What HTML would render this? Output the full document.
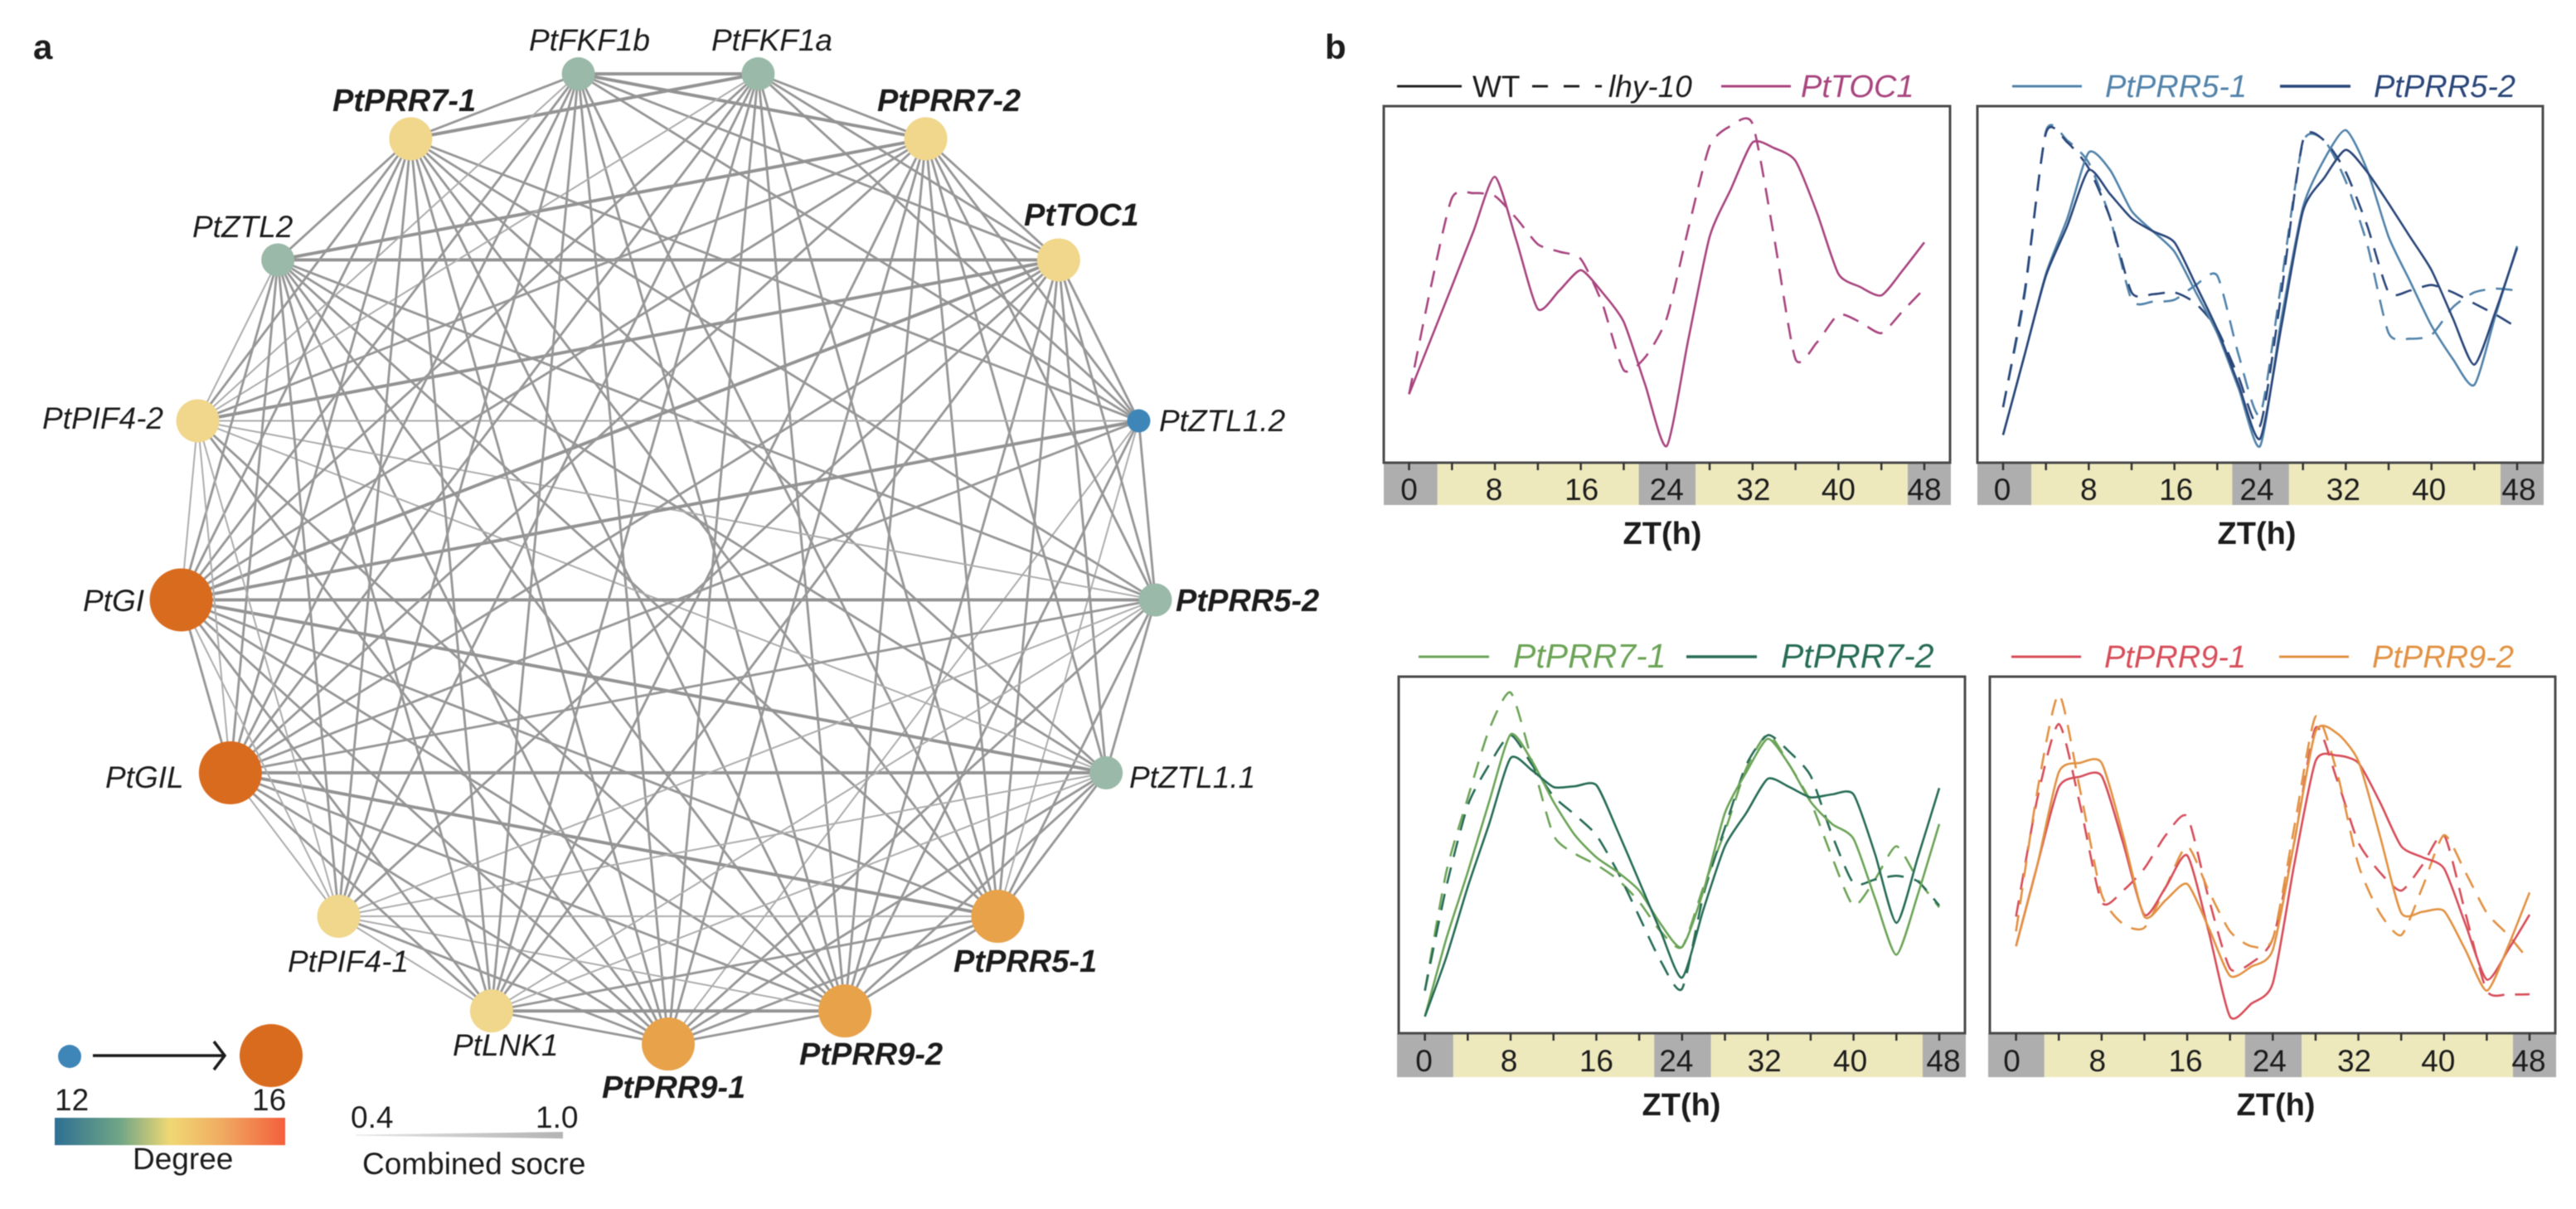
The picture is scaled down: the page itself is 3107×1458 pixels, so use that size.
<!DOCTYPE html>
<html lang="en">
<head>
<meta charset="utf-8">
<title>Circadian gene network and expression profiles</title>
<style>
html,body{margin:0;padding:0;background:#fff;}
svg{display:block;font-family:"Liberation Sans",sans-serif;filter:blur(0.6px);}
text{fill:#1c1c1c;}
.lbl{font-size:37px;font-style:italic;}
.lblb{font-size:38px;font-style:italic;font-weight:bold;}
.plain{font-size:37px;}
.leg{font-size:38px;font-style:italic;}
.axt{font-size:38px;font-weight:bold;text-anchor:middle;}
.tick{font-size:37px;text-anchor:middle;}
</style>
</head>
<body>
<svg id="fig" xmlns="http://www.w3.org/2000/svg" width="3107" height="1458" viewBox="0 0 3107 1458">
<defs>
<linearGradient id="degreeGrad" x1="0" x2="1" y1="0" y2="0">
<stop offset="0" stop-color="#2e6f93"/>
<stop offset="0.28" stop-color="#6fa586"/>
<stop offset="0.5" stop-color="#f0d874"/>
<stop offset="0.72" stop-color="#f0ac62"/>
<stop offset="1" stop-color="#f45f3c"/>
</linearGradient>
<linearGradient id="scoreGrad" x1="0" x2="1" y1="0" y2="0">
<stop offset="0" stop-color="#e4e4e4"/>
<stop offset="1" stop-color="#b4b4b4"/>
</linearGradient>
</defs>

<text x="40" y="71" font-size="42" font-weight="bold">a</text>
<text x="1598" y="71" font-size="42" font-weight="bold">b</text>

<g id="edges"></g>
<g id="nodes"></g>

<g>
<text class="lbl" x="638" y="61">PtFKF1b</text>
<text class="lbl" x="858" y="61">PtFKF1a</text>
<text class="lblb" x="401" y="134">PtPRR7-1</text>
<text class="lblb" x="1058" y="134">PtPRR7-2</text>
<text class="lbl" x="232" y="286">PtZTL2</text>
<text class="lblb" x="1235" y="272">PtTOC1</text>
<text class="lbl" x="51" y="517">PtPIF4-2</text>
<text class="lbl" x="1398" y="520">PtZTL1.2</text>
<text class="lbl" x="100" y="737">PtGI</text>
<text class="lblb" x="1418" y="737">PtPRR5-2</text>
<text class="lbl" x="127" y="950">PtGIL</text>
<text class="lbl" x="1362" y="950">PtZTL1.1</text>
<text class="lbl" x="347" y="1172">PtPIF4-1</text>
<text class="lblb" x="1150" y="1172">PtPRR5-1</text>
<text class="lbl" x="546" y="1273">PtLNK1</text>
<text class="lblb" x="964" y="1284">PtPRR9-2</text>
<text class="lblb" x="726" y="1324">PtPRR9-1</text>
</g>

<g>
<circle cx="84" cy="1274" r="14" fill="#3f86b8"/>
<circle cx="327" cy="1273" r="38" fill="#d96b1f"/>
<path d="M112 1273H270M258 1256L271 1273L258 1290" fill="none" stroke="#1c1c1c" stroke-width="3.5"/>
<text class="plain" x="66" y="1339">12</text>
<text class="plain" x="304" y="1339">16</text>
<rect x="66" y="1348" width="278" height="33" fill="url(#degreeGrad)"/>
<text class="plain" x="160" y="1410">Degree</text>
</g>
<g>
<text class="plain" x="423" y="1360">0.4</text>
<text class="plain" x="646" y="1360">1.0</text>
<polygon points="429,1368.5 679,1365 679,1373 429,1369.5" fill="url(#scoreGrad)"/>
<text class="plain" x="437" y="1416">Combined socre</text>
</g>

<g>
<line x1="1685" x2="1763" y1="104" y2="104" stroke="#222" stroke-width="3"/>
<text class="plain" x="1776" y="117">WT</text>
<line x1="1848" x2="1932" y1="104" y2="104" stroke="#222" stroke-width="3" stroke-dasharray="19 19 19 19 6 0"/>
<text class="plain" x="1940" y="117" font-style="italic">lhy-10</text>
<line x1="2076" x2="2160" y1="104" y2="104" stroke="#a8457f" stroke-width="3"/>
<text class="leg" x="2172" y="117" style="fill:#a8457f">PtTOC1</text>
</g>
<g>
<line x1="2427" x2="2511" y1="104" y2="104" stroke="#5283aa" stroke-width="3"/>
<text class="leg" x="2539" y="117" style="fill:#5283aa">PtPRR5-1</text>
<line x1="2750" x2="2835" y1="104" y2="104" stroke="#2a4679" stroke-width="3.5"/>
<text class="leg" x="2863" y="117" style="fill:#2a4679">PtPRR5-2</text>
</g>
<g>
<line x1="1711" x2="1796" y1="792" y2="792" stroke="#6ca457" stroke-width="3"/>
<text class="leg" x="1825" y="805" style="fill:#6ca457;font-size:41px">PtPRR7-1</text>
<line x1="2034" x2="2119" y1="792" y2="792" stroke="#276c56" stroke-width="3.5"/>
<text class="leg" x="2148" y="805" style="fill:#276c56;font-size:41px">PtPRR7-2</text>
</g>
<g>
<line x1="2426" x2="2510" y1="792" y2="792" stroke="#d64e5a" stroke-width="3"/>
<text class="leg" x="2538" y="805" style="fill:#d64e5a">PtPRR9-1</text>
<line x1="2749" x2="2833" y1="792" y2="792" stroke="#e29243" stroke-width="3"/>
<text class="leg" x="2861" y="805" style="fill:#e29243">PtPRR9-2</text>
</g>

<text class="axt" x="2005" y="656">ZT(h)</text>
<text class="axt" x="2722" y="656">ZT(h)</text>
<text class="axt" x="2028" y="1345">ZT(h)</text>
<text class="axt" x="2745" y="1345">ZT(h)</text>

<g id="charts"></g>
</svg>

<script>
/* ---------- network data ---------- */
const nodeNames = ['PtPRR9-1','PtPRR9-2','PtPRR5-1','PtZTL1.1','PtPRR5-2','PtZTL1.2','PtTOC1','PtPRR7-2','PtFKF1a','PtFKF1b','PtPRR7-1','PtZTL2','PtPIF4-2','PtGI','PtGIL','PtPIF4-1','PtLNK1'];
const nodeDegrees = [15,15,15,13,13,12,14,14,13,13,14,13,14,16,16,14,14];
const missingEdges = [
 ['PtPRR7-1','PtPRR7-2'],['PtPRR7-1','PtTOC1'],['PtFKF1a','PtZTL2'],['PtFKF1b','PtZTL2'],['PtZTL2','PtZTL1.2'],
 ['PtFKF1a','PtZTL1.1'],['PtFKF1b','PtZTL1.1'],['PtZTL1.2','PtZTL1.1'],['PtZTL1.2','PtPIF4-1'],
 ['PtZTL1.2','PtLNK1'],['PtPRR5-2','PtFKF1a'],['PtPRR5-2','PtFKF1b'],['PtPRR7-2','PtPIF4-1'],
 ['PtPRR5-2','PtPRR9-2'],['PtTOC1','PtPRR9-1'],['PtPIF4-2','PtLNK1'],['PtPIF4-2','PtPRR5-1']
];
const strongEdges = [
 ['PtGI','PtZTL1.2'],['PtGI','PtZTL1.1'],['PtGI','PtPRR5-2'],['PtGI','PtTOC1'],['PtGIL','PtZTL1.1'],
 ['PtGIL','PtPRR5-1'],['PtZTL2','PtTOC1'],['PtZTL2','PtPRR7-2'],['PtPRR7-1','PtFKF1a'],['PtFKF1b','PtPRR7-2'],
 ['PtTOC1','PtPIF4-2'],['PtLNK1','PtPRR9-2'],['PtFKF1a','PtFKF1b']
];
const weakEdges = [
 ['PtPIF4-2','PtGI'],['PtPIF4-2','PtZTL2'],['PtPIF4-2','PtZTL1.2'],['PtPIF4-2','PtPRR5-2'],['PtPIF4-2','PtZTL1.1'],
 ['PtPIF4-2','PtFKF1a'],['PtPIF4-2','PtFKF1b'],['PtPIF4-1','PtPRR5-1'],['PtPIF4-1','PtZTL1.1'],['PtPIF4-1','PtPRR5-2'],
 ['PtPIF4-1','PtGIL'],['PtPIF4-1','PtGI'],['PtLNK1','PtZTL1.1'],['PtLNK1','PtPRR5-2'],['PtZTL1.2','PtPRR9-1'],
 ['PtZTL1.2','PtPRR5-1'],['PtPIF4-2','PtGIL'],['PtPIF4-2','PtPIF4-1'],['PtPIF4-1','PtPRR9-2'],['PtPIF4-1','PtLNK1']
];
const edgeScoreLevels = [0.45, 0.7, 1.0];

/* ---------- expression data (ZT every 2 h; relative expression, 0 to 963) ---------- */
const ztHours = [0,2,4,6,8,10,12,14,16,18,20,22,24,26,28,30,32,34,36,38,40,42,44,46,48];
const tickHours = [0,4,8,12,16,20,24,28,32,36,40,44,48];
const tickLabels = ['0','8','16','24','32','40','48'];
const tickLabelHours = [0,8,16,24,32,40,48];
const bandEdges = [2.65,21.4,26.7,46.45];

const toc1Wt    = [185,331,477,625,772,600,415,465,520,460,380,210,45,330,610,740,865,850,815,675,510,475,452,520,595];
const toc1Lhy   = [185,470,715,728,720,660,590,570,550,430,250,285,390,630,855,910,915,610,280,325,400,380,350,410,470];
const prr51Wt   = [75,290,510,660,838,790,680,625,570,460,350,200,45,390,690,820,898,790,610,490,370,280,210,400,585];
const prr52Wt   = [75,290,505,640,790,725,660,625,595,480,360,210,65,370,680,770,845,785,700,610,520,390,265,410,580];
const prr51Lhy  = [150,450,895,870,810,660,440,435,440,480,505,290,130,490,865,870,760,590,350,335,345,420,460,470,465];
const prr52Lhy  = [150,460,890,865,795,660,460,455,460,430,360,230,100,460,870,870,785,640,460,465,480,460,430,400,365];
const prr71Wt   = [45,255,435,625,807,735,625,535,475,435,385,295,233,385,595,705,795,725,625,565,525,365,212,375,565];
const prr72Wt   = [45,205,395,565,743,710,665,667,670,545,410,275,150,335,505,595,687,665,637,645,645,485,298,475,662];
const prr71Lhy  = [115,435,635,820,920,735,535,485,455,415,355,275,233,395,545,715,807,725,625,475,345,415,505,415,340];
const prr72Lhy  = [115,395,615,725,805,725,640,590,535,435,315,195,120,375,555,725,805,760,695,535,405,415,425,410,345];
const prr91Wt   = [235,455,665,693,695,515,320,395,480,275,45,80,135,455,735,750,730,625,505,475,445,295,145,225,320];
const prr92Wt   = [235,455,705,730,730,535,315,360,403,285,155,180,225,515,815,810,735,535,325,328,330,225,115,235,380];
const prr91Lhy  = [315,635,835,615,355,385,445,535,585,365,175,190,255,515,825,685,515,435,385,455,535,325,115,105,105];
const prr92Lhy  = [275,655,915,655,375,295,285,395,505,385,275,235,255,555,855,705,455,325,265,395,535,435,325,265,195];

/* ---------- helpers ---------- */
const SVGNS = 'http://www.w3.org/2000/svg';
function mk(tag, parent){
  const el = document.createElementNS(SVGNS, tag);
  parent.appendChild(el);
  return el;
}
function slug(s){ return s.toLowerCase().replace(/[^a-z0-9]+/g,'-'); }

/* ---------- network ---------- */
const cx = 806, cy = 669, R = 590;
function nodeX(i){ return cx + R*Math.sin(i*2*Math.PI/nodeNames.length); }
function nodeY(i){ return cy + R*Math.cos(i*2*Math.PI/nodeNames.length); }
function degreeRadius(d){ return 14 + (d-12)*6; }
function degreeColor(d){ return {12:'#3f86b8',13:'#9ab9a8',14:'#f0d78c',15:'#e8a24a',16:'#d96b1f'}[d]; }
function hasPair(list,a,b){ return list.some(p => (p[0]===a&&p[1]===b)||(p[0]===b&&p[1]===a)); }
function scoreWidth(s){ return 2 + (s-0.45)/0.55*1.9; }
function scoreColor(s){ return s<0.5 ? '#adadad' : (s<0.9 ? '#979797' : '#939393'); }

const edgesG = document.getElementById('edges');
nodeNames.forEach((a,i)=>{
  for(let j=i+1;j<nodeNames.length;j++){
    const b = nodeNames[j];
    if(hasPair(missingEdges,a,b)) continue;
    const s = hasPair(strongEdges,a,b) ? edgeScoreLevels[2] : (hasPair(weakEdges,a,b) ? edgeScoreLevels[0] : edgeScoreLevels[1]);
    const e = mk('line',edgesG);
    
    
    e.setAttribute('x1',nodeX(i)); e.setAttribute('y1',nodeY(i));
    e.setAttribute('x2',nodeX(j)); e.setAttribute('y2',nodeY(j));
    e.setAttribute('stroke',scoreColor(s));
    e.setAttribute('stroke-width',scoreWidth(s));
  }
});
const nodesG = document.getElementById('nodes');
nodeNames.forEach((a,i)=>{
  const c = mk('circle',nodesG);
  
  
  c.setAttribute('cx',nodeX(i)); c.setAttribute('cy',nodeY(i));
  c.setAttribute('r',degreeRadius(nodeDegrees[i]));
  c.setAttribute('fill',degreeColor(nodeDegrees[i]));
});

/* ---------- line charts ---------- */
const panels = [
 {id:'panel-1',left:1669,right:2352,bandLeft:1669,top:128,bottom:558,bandBottom:609,labelY:603,x0:1699.5,x48:2321,labelDx:[0,-1,1,0,1,0,0],
  series:[{name:'pttoc1-wt',values:toc1Wt,color:'#a8457f',dash:false},{name:'pttoc1-lhy10',values:toc1Lhy,color:'#a8457f',dash:true}]},
 {id:'panel-2',left:2385,right:3067,bandLeft:2385,top:128,bottom:558,bandBottom:609,labelY:603,x0:2416,x48:3036,labelDx:[-1,0,2,-4,-3,-3,2],
  series:[{name:'ptprr5-1-lhy10',values:prr51Lhy,color:'#5283aa',dash:true},{name:'ptprr5-2-lhy10',values:prr52Lhy,color:'#2a4679',dash:true},{name:'ptprr5-1-wt',values:prr51Wt,color:'#5283aa',dash:false},{name:'ptprr5-2-wt',values:prr52Wt,color:'#2a4679',dash:false}]},
 {id:'panel-3',left:1687,right:2370,bandLeft:1685,top:816,bottom:1246,bandBottom:1299,labelY:1292,x0:1718.6,x48:2339,labelDx:[-1,-2,0,-7,-4,-4,5],
  series:[{name:'ptprr7-1-lhy10',values:prr71Lhy,color:'#6ca457',dash:true},{name:'ptprr7-2-lhy10',values:prr72Lhy,color:'#276c56',dash:true},{name:'ptprr7-1-wt',values:prr71Wt,color:'#6ca457',dash:false},{name:'ptprr7-2-wt',values:prr72Wt,color:'#276c56',dash:false}]},
 {id:'panel-4',left:2400,right:3082,bandLeft:2398,top:816,bottom:1246,bandBottom:1299,labelY:1292,x0:2431.6,x48:3051,labelDx:[-5,-5,-2,-4,-5,-7,-1],
  series:[{name:'ptprr9-1-lhy10',values:prr91Lhy,color:'#d64e5a',dash:true},{name:'ptprr9-2-lhy10',values:prr92Lhy,color:'#e29243',dash:true},{name:'ptprr9-1-wt',values:prr91Wt,color:'#d64e5a',dash:false},{name:'ptprr9-2-wt',values:prr92Wt,color:'#e29243',dash:false}]}
];
const yMax = 963;
function xScale(p,h){ return p.x0 + (p.x48-p.x0)*h/48; }
function yScale(p,v){ return p.bottom - (p.bottom-p.top)*v/yMax; }
function linePath(pts){
  let d = 'M'+pts[0][0].toFixed(1)+' '+pts[0][1].toFixed(1);
  for(let i=0;i<pts.length-1;i++){
    const a=pts[Math.max(i-1,0)],b=pts[i],c=pts[i+1],e=pts[Math.min(i+2,pts.length-1)];
    const c1x=b[0]+(c[0]-a[0])/9,c1y=b[1]+(c[1]-a[1])/9,c2x=c[0]-(e[0]-b[0])/9,c2y=c[1]-(e[1]-b[1])/9;
    d+='C'+c1x.toFixed(1)+' '+c1y.toFixed(1)+' '+c2x.toFixed(1)+' '+c2y.toFixed(1)+' '+c[0].toFixed(1)+' '+c[1].toFixed(1);
  }
  return d;
}
const chartsG = document.getElementById('charts');
panels.forEach(p=>{
  const g = mk('g',chartsG);
  
  
  const stops = [p.bandLeft].concat(bandEdges.map(h=>xScale(p,h)),[p.right+1]);
  stops.slice(0,-1).forEach((s,i)=>{
    const r = mk('rect',g);
    
    
    r.setAttribute('x',s); r.setAttribute('y',p.bottom);
    r.setAttribute('width',stops[i+1]-s); r.setAttribute('height',p.bandBottom-p.bottom);
    r.setAttribute('fill',i%2===0?'#aeaeae':'#eee9bd');
  });
  const box = mk('rect',g);
  
  
  box.setAttribute('x',p.left); box.setAttribute('y',p.top);
  box.setAttribute('width',p.right-p.left); box.setAttribute('height',p.bottom-p.top);
  box.setAttribute('fill','#fff'); box.setAttribute('stroke','#4a4a4a'); box.setAttribute('stroke-width',3);
  tickHours.forEach(h=>{
    const t = mk('line',g);
    
    
    t.setAttribute('x1',xScale(p,h)); t.setAttribute('x2',xScale(p,h));
    t.setAttribute('y1',p.bottom); t.setAttribute('y2',p.bottom+9);
    t.setAttribute('stroke','#333'); t.setAttribute('stroke-width',2.5);
  });
  tickLabels.forEach((lab,i)=>{
    const t = mk('text',g);
    
    
    t.setAttribute('class','tick');
    t.setAttribute('x',xScale(p,tickLabelHours[i])+p.labelDx[i]);
    t.setAttribute('y',p.labelY);
    t.textContent = lab;
  });
  p.series.forEach(s=>{
    const pts = s.values.map((v,i)=>[xScale(p,ztHours[i]),yScale(p,v)]);
    const l = mk('path',g);
    
    
    l.setAttribute('d',linePath(pts));
    l.setAttribute('fill','none');
    l.setAttribute('stroke',s.color);
    l.setAttribute('stroke-width',2.6);
    l.setAttribute('stroke-linejoin','round');
    if(s.dash) l.setAttribute('stroke-dasharray','20 13');
  });
});
</script>
</body>
</html>
